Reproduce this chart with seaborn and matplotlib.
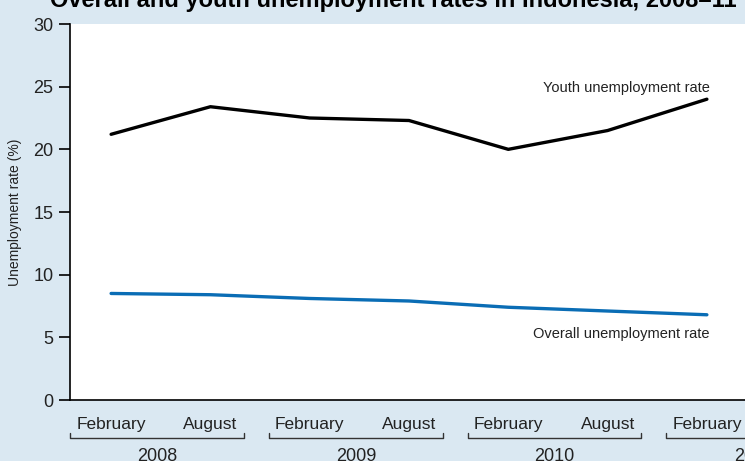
import matplotlib
matplotlib.use("Agg")
import matplotlib.pyplot as plt
import seaborn as sns
import pandas as pd
import numpy as np

periods = ["February", "August", "February", "August", "February", "August", "February"]
years = ["2008", "2009", "2010", "2011"]
youth = [21.2, 23.4, 22.5, 22.3, 20.0, 21.5, 24.0]
overall = [8.5, 8.4, 8.1, 7.9, 7.4, 7.1, 6.8]

sns.set_theme(style="ticks")
plt.rcParams['font.family'] = ['Liberation Sans', 'DejaVu Sans']

bg = "#dae8f2"
blue = "#0a6db5"

df = pd.DataFrame({
    "idx": list(range(len(periods))) * 2,
    "rate": youth + overall,
    "series": ["Youth"] * len(youth) + ["Overall"] * len(overall),
})

fig = plt.figure(figsize=(7.45, 4.61), dpi=100, facecolor=bg)
ax = fig.add_axes([70/745, 1 - 400/461, (748-70)/745, (400-24)/461])
ax.set_facecolor("white")

sns.lineplot(data=df, x="idx", y="rate", hue="series",
             palette={"Youth": "black", "Overall": blue},
             linewidth=2.4, legend=False, ax=ax)

ax.set_xlim(-0.414, 6.414)
ax.set_ylim(0, 30)
ax.set_yticks(range(0, 31, 5))
ax.tick_params(axis="y", labelsize=13, length=8, width=1.2, pad=4, color="black", labelcolor="#222222")
ax.set_xticks(range(len(periods)))
ax.set_xticklabels(periods)
ax.tick_params(axis="x", length=0, labelsize=12.5, pad=12, labelcolor="#222222")
for s in ["top", "right"]:
    ax.spines[s].set_visible(False)
ax.spines["left"].set_linewidth(1.2)
ax.spines["bottom"].set_linewidth(1.2)
ax.spines["left"].set_color("black")
ax.spines["bottom"].set_color("black")
ax.set_xlabel("")
ax.set_ylabel("Unemployment rate (%)", fontsize=10, color="#222222", labelpad=8)

# Year brackets
trans = ax.get_xaxis_transform()
for k, yr in enumerate(years):
    x0 = 2 * k - 0.41
    x1 = 2 * k + 1.34
    yb = -38 / 376
    yt = -33 / 376
    ax.plot([x0, x0, x1, x1], [yt, yb, yb, yt], transform=trans, color="#333333",
            lw=1.0, clip_on=False)
    ax.text(2 * k + 0.465, -48 / 376, yr, transform=trans, ha="center", va="top",
            fontsize=13, color="#222222")

ax.text(6.03, 24.55, "Youth unemployment rate", ha="right", va="baseline", fontsize=10.5, color="#222222")
ax.text(6.03, 5.85, "Overall unemployment rate", ha="right", va="top", fontsize=10.5, color="#222222")

fig.text(50/745, 1 - 7/461, "Overall and youth unemployment rates in Indonesia, 2008\u201311",
         ha="left", va="baseline", fontsize=17, fontweight="bold", color="black")

fig.savefig("out.png", dpi=100, facecolor=bg)
